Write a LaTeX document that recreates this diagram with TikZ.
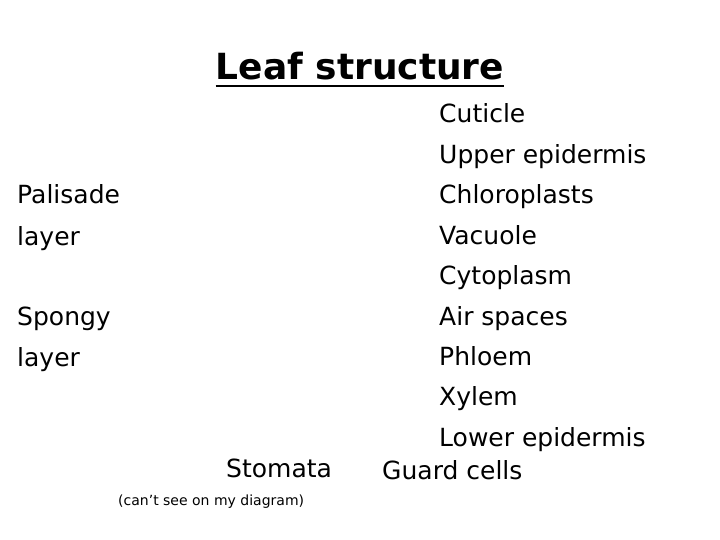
\documentclass[tikz,border=0pt]{standalone}
\usepackage{fontspec}
\setmainfont{DejaVu Sans}
\begin{document}
\begin{tikzpicture}[x=1pt,y=-1pt,
  lbl/.style={anchor=base west,inner sep=0pt,font=\fontsize{25}{28}\selectfont},
  small/.style={anchor=base west,inner sep=0pt,font=\fontsize{14}{16}\selectfont}]
\useasboundingbox (0,0) rectangle (720,540);
\node[anchor=base,inner sep=0pt,font=\fontsize{36}{40}\selectfont\bfseries] (title) at (360,80) {Leaf structure};
\draw[line width=1.5pt] (title.base west)++(0,6) -- ([yshift=-6pt]title.base east);
\foreach \t [count=\i from 0] in {Cuticle,Upper epidermis,Chloroplasts,Vacuole,Cytoplasm,Air spaces,Phloem,Xylem,Lower epidermis}
  \node[lbl] (r\i) at (439,{123+\i*40.4}) {\t};
\node[lbl] (guard) at (382,479) {Guard cells};
\node[lbl] (pal1) at (17,204) {Palisade};
\node[lbl] (pal2) at (17,245) {layer};
\node[lbl] (sp1) at (17,325) {Spongy};
\node[lbl] (sp2) at (17,366) {layer};
\node[lbl] (stom) at (226,477) {Stomata};
\node[small] (note) at (118,505) {(can’t see on my diagram)};
\end{tikzpicture}
\end{document}
